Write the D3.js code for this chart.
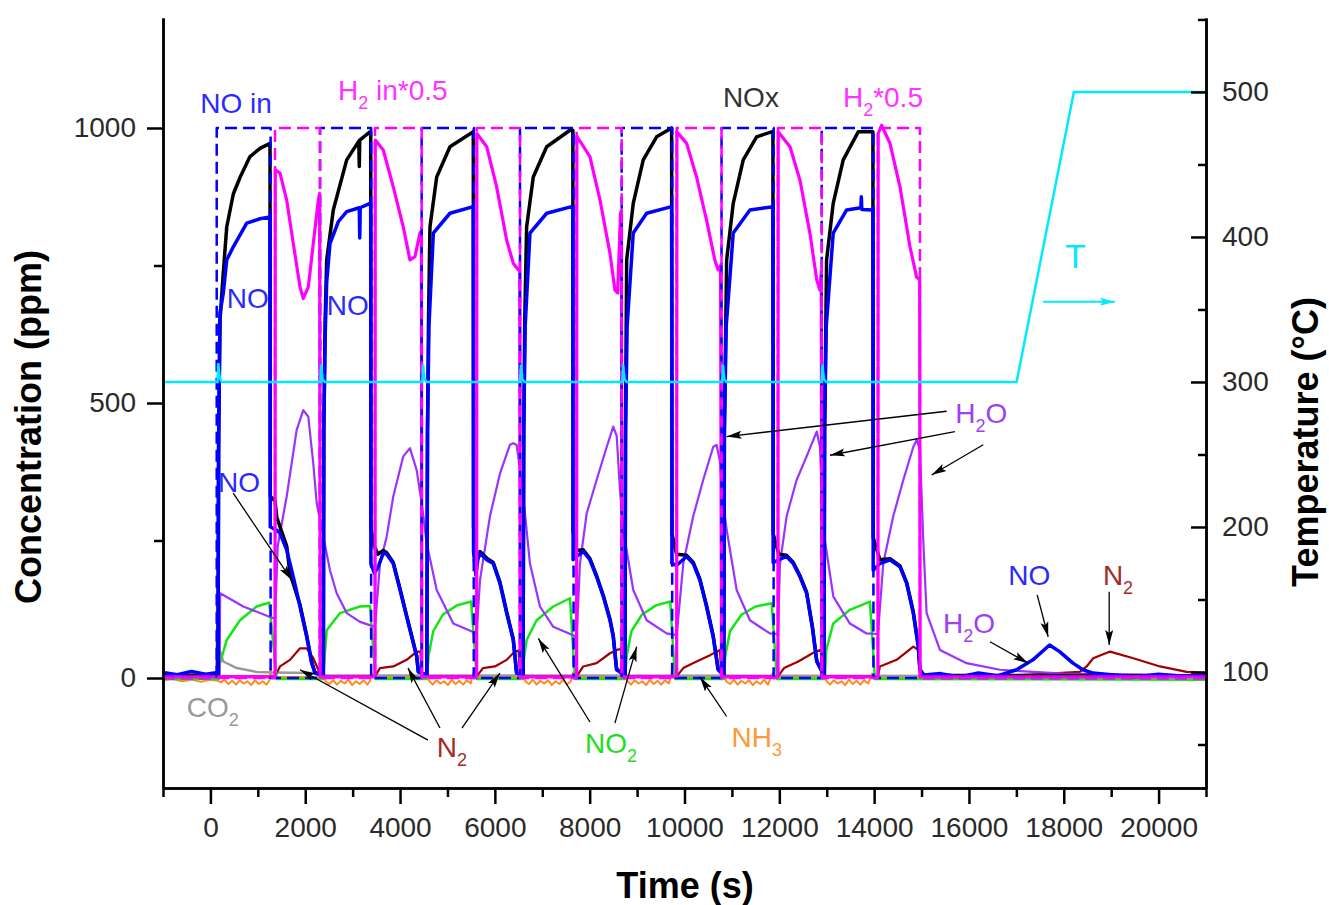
<!DOCTYPE html>
<html>
<head>
<meta charset="utf-8">
<script src="https://cdn.jsdelivr.net/npm/d3@7"></script>
<style>
body { margin: 0; background: #fff; }
text { font-family: "Liberation Sans", Arial, sans-serif; }
</style>
</head>
<body>
<script>

var w = 1329;
var h = 905;

// ---- data (time in s, concentration in ppm, T in degC) ----
var timeTicks = [0, 2000, 4000, 6000, 8000, 10000, 12000, 14000, 16000, 18000, 20000];
var concTicks = [0, 500, 1000];
var tempTicks = [100, 200, 300, 400, 500];

// inlet switching times
var noInOn  = [133, 2312, 4456, 6530, 8675, 10781, 12894];
var noInOff = [1270, 3390, 5555, 7660, 9740, 11880, 13985];
var h2InOn  = [1363, 3472, 5616, 7725, 9835, 11971, 14080];
var h2InOff = [2312, 4456, 6530, 8675, 10781, 12894, 14966];
var inletLevel = 1000;

var nox = [[-1000,5],[155,5],
  [160,5],[175,450],[202,650],[266,730],[344,820],[483,880],[624,910],[835,948],[1046,963],[1257,972],
  [1262,330],[1363,322],[1400,292],[1468,275],[1609,240],[1679,190],[1890,133],[2031,77],[2136,29],[2206,10],[2370,5],
  [2382,5],[2392,450],[2420,650],[2453,760],[2592,851],[2875,942],[3130,976],[3140,930],[3150,978],[3366,993],[3381,993],
  [3385,272],[3457,240],[3530,225],[3646,232],[3718,228],[3857,210],[4000,162],[4140,113],[4280,65],[4351,40],[4386,12],[4560,5],
  [4565,5],[4580,450],[4600,650],[4631,820],[4773,911],[5053,966],[5545,993],
  [5550,275],[5600,232],[5640,225],[5686,230],[5827,218],[5966,210],[6108,174],[6249,120],[6388,71],[6458,10],[6590,5],
  [6595,5],[6610,450],[6630,650],[6670,820],[6810,911],[7093,966],[7584,996],[7645,996],
  [7650,268],[7725,232],[7864,233],[8005,217],[8146,186],[8288,150],[8428,107],[8497,77],[8568,16],[8740,5],
  [8745,5],[8755,450],[8780,760],[8919,863],[9130,942],[9412,984],[9729,1000],
  [9735,262],[9835,225],[10045,223],[10184,210],[10324,180],[10464,132],[10605,77],[10710,16],[10825,5],
  [10830,5],[10840,450],[10889,760],[11028,863],[11239,942],[11521,984],[11837,993],[11865,993],
  [11870,262],[11990,225],[12154,223],[12295,210],[12436,186],[12576,156],[12700,92],[12790,31],[12940,5],
  [12943,5],[12955,450],[12997,760],[13137,863],[13348,942],[13664,993],[13946,993],[13974,993],
  [13980,255],[14122,215],[14334,217],[14545,204],[14686,174],[14826,120],[14931,59],[14966,16],[15050,5],[21000,4]];

var noOut = [[-1000,10],[-700,6],[-400,12],[-100,7],[150,10],
  [160,10],[172,420],[202,663],[272,700],[344,760],[483,784],[766,827],[1046,835],[1257,838],
  [1262,275],[1363,270],[1398,269],[1468,263],[1609,233],[1748,184],[1890,130],[2031,75],[2136,27],[2206,9],[2370,5],
  [2382,5],[2392,450],[2420,620],[2453,720],[2522,790],[2700,830],[2875,848],[3140,855],[3150,800],[3160,855],[3366,863],[3381,863],
  [3385,208],[3457,191],[3530,200],[3646,227],[3718,225],[3857,208],[4000,160],[4140,111],[4280,63],[4351,39],[4386,11],[4560,5],
  [4565,5],[4578,450],[4610,640],[4702,809],[5053,845],[5545,857],
  [5550,229],[5600,187],[5640,215],[5686,227],[5827,215],[5966,208],[6108,172],[6249,118],[6388,69],[6458,9],[6590,5],
  [6595,5],[6608,450],[6640,640],[6740,809],[7093,845],[7620,857],[7645,857],
  [7650,215],[7725,221],[7864,230],[8005,215],[8146,184],[8288,148],[8428,105],[8497,75],[8568,15],[8740,5],
  [8745,5],[8757,450],[8790,640],[8919,809],[9202,845],[9729,857],
  [9735,208],[9835,205],[10045,221],[10184,208],[10324,178],[10464,130],[10605,75],[10710,15],[10825,5],
  [10830,5],[10842,450],[10880,640],[11028,809],[11380,851],[11865,857],
  [11870,210],[11990,215],[12154,221],[12295,208],[12436,184],[12576,154],[12700,90],[12790,30],[12940,5],
  [12943,5],[12955,450],[12990,640],[13137,809],[13420,851],[13720,855],[13730,875],[13740,852],[13974,851],
  [13980,196],[14122,208],[14334,215],[14545,202],[14686,172],[14826,118],[14931,57],[14966,15],[15000,5],
  [15400,8],[15800,2],[16200,9],[16600,4],[17005,15],[17349,33],[17700,60],[17912,48],[18193,27],[18404,15],[18615,9],
  [19000,6],[19500,2],[20000,7],[20500,3],[21000,5]];

var h2Out = [[-1000,2],[1363,2],[1368,924],[1468,918],[1609,869],[1748,790],[1890,711],[1959,690],[2065,711],[2170,790],[2276,869],[2305,881],[2315,2],
  [3472,2],[3477,978],[3646,960],[3857,893],[4068,820],[4209,760],[4315,766],[4420,809],[4450,812],[4460,2],
  [5616,2],[5621,990],[5827,966],[6038,893],[6249,796],[6388,754],[6494,742],[6525,745],[6535,2],
  [7725,2],[7730,985],[8005,948],[8218,869],[8428,772],[8533,705],[8590,700],[8650,845],[8670,850],[8680,2],
  [9835,2],[9840,993],[10045,972],[10254,911],[10464,833],[10640,760],[10710,742],[10760,750],[10781,2],
  [11971,2],[11976,993],[12225,966],[12436,905],[12647,808],[12789,724],[12858,705],[12885,740],[12897,2],
  [14080,2],[14085,990],[14158,1005],[14334,972],[14545,893],[14756,784],[14896,729],[14960,724],[14970,2],[21000,2]];

var h2o = [[-1000,2],[195,2],[205,154],[694,130],[1257,111],[1363,108],[1420,240],[1609,330],[1820,451],[1959,487],[2065,475],[2170,390],[2242,318],[2382,257],[2522,196],[2663,154],[2875,118],[3155,102],[3472,93],
  [3577,208],[3718,257],[3857,330],[4068,403],[4209,418],[4351,378],[4456,318],[4562,245],[4773,160],[5123,99],[5616,81],
  [5686,178],[5896,294],[6108,372],[6318,424],[6388,427],[6458,424],[6530,380],[6599,330],[6740,208],[6951,130],[7232,93],[7725,75],
  [7795,208],[7936,299],[8146,360],[8359,420],[8497,457],[8570,440],[8640,340],[8708,269],[8919,160],[9202,105],[9623,81],[9835,78],
  [9974,208],[10184,294],[10394,360],[10605,420],[10676,424],[10745,395],[10800,330],[10890,269],[11100,160],[11380,105],[11800,81],[11971,80],
  [12014,208],[12154,294],[12365,360],[12576,403],[12789,448],[12858,420],[12900,330],[12929,269],[13140,148],[13489,99],[13841,81],[14080,80],
  [14192,208],[14403,294],[14615,360],[14826,420],[14896,433],[14966,415],[15036,250],[15107,118],[15388,51],[15950,27],[16653,15],[17349,11],[18000,8],[21000,5]];

var n2 = [[-1000,3],[1363,3],[1468,21],[1679,33],[1890,54],[2031,54],[2170,36],[2276,15],[2330,3],
  [3472,3],[3577,18],[3857,21],[4140,33],[4351,48],[4430,48],[4460,3],
  [5616,3],[5750,18],[6000,21],[6250,33],[6420,48],[6500,50],[6535,3],
  [7725,3],[7864,21],[8146,27],[8428,45],[8600,52],[8670,52],[8680,3],
  [9835,3],[9974,18],[10254,30],[10550,42],[10745,51],[10785,3],
  [11971,3],[12100,18],[12400,30],[12700,45],[12880,52],[12900,3],
  [14080,3],[14122,21],[14475,33],[14826,57],[14931,51],[14990,3],
  [17000,5],[18340,11],[18482,21],[18621,36],[18975,48],[19467,36],[20029,21],[20593,11],[21000,9]];

var no2 = [[-1000,-2],[170,-2],[202,27],[344,69],[624,105],[976,130],[1240,137],[1400,-2],
  [2380,-2],[2410,40],[2453,87],[2733,118],[3155,130],[3366,131],[3480,-2],
  [4565,-2],[4600,40],[4700,85],[4900,115],[5200,132],[5500,139],[5620,-2],
  [6593,-2],[6599,27],[6670,69],[6881,105],[7232,130],[7584,145],[7690,-2],
  [8745,-2],[8780,40],[8880,85],[9100,115],[9400,132],[9700,139],[9800,-2],
  [10830,-2],[10860,40],[10960,85],[11200,115],[11500,130],[11840,136],[11950,-2],
  [12960,-2],[12990,51],[13137,99],[13489,124],[13911,139],[14017,-2],[21000,-3]];

var nh3 = [[-1000,-4],[-800,-2],[-600,-6],[-400,-3],[-200,-7],[0,-3],[160,-5],
  [220,-8],[300,-3],[380,-11],[460,-5],[540,-12],[620,-4],[700,-10],[780,-6],[860,-13],[940,-4],[1020,-11],[1100,-6],[1180,-12],[1240,-5],[1265,18],[1300,2],
  [2300,2],[2390,12],[2430,-6],[2510,-11],[2590,-4],[2670,-12],[2750,-5],[2830,-10],[2910,-3],[2990,-13],[3070,-6],[3150,-11],[3230,-4],[3310,-12],[3370,-5],[3395,12],[3430,2],
  [4450,2],[4570,14],[4610,-5],[4690,-12],[4770,-4],[4850,-10],[4930,-6],[5010,-13],[5090,-3],[5170,-11],[5250,-5],[5330,-12],[5410,-4],[5490,-10],[5540,8],[5600,2],
  [6530,2],[6600,15],[6640,-6],[6720,-11],[6800,-3],[6880,-12],[6960,-5],[7040,-10],[7120,-4],[7200,-13],[7280,-6],[7360,-11],[7440,-3],[7520,-12],[7600,-6],[7650,10],[7700,2],
  [8675,2],[8750,12],[8790,-5],[8870,-12],[8950,-4],[9030,-10],[9110,-6],[9190,-13],[9270,-3],[9350,-11],[9430,-5],[9510,-12],[9590,-4],[9670,-10],[9730,8],[9780,2],
  [10781,2],[10840,13],[10880,-6],[10960,-11],[11040,-3],[11120,-12],[11200,-5],[11280,-10],[11360,-4],[11440,-13],[11520,-6],[11600,-11],[11680,-3],[11760,-12],[11860,9],[11900,2],
  [12894,2],[12950,12],[12990,-5],[13070,-12],[13150,-4],[13230,-10],[13310,-6],[13390,-13],[13470,-3],[13550,-11],[13630,-5],[13710,-12],[13790,-4],[13870,-10],[13960,8],[14000,2],
  [15000,2],[21000,2]];

var co2 = [[-1000,2],[120,2],[140,84],[165,60],[272,30],[555,18],[976,11],[1328,10],[2170,9],[2300,5],[21000,3]];

var temp = [[-1000,300],[150,300],[165,313],[195,303],[240,300],
  [2320,300],[2335,312],[2365,302],[2410,300],
  [4470,300],[4485,312],[4515,302],[4560,300],
  [6535,300],[6550,312],[6580,302],[6625,300],
  [8690,300],[8705,312],[8735,302],[8780,300],
  [10795,300],[10810,312],[10840,302],[10885,300],
  [12895,300],[12910,312],[12940,302],[12985,300],
  [17005,300],[18213,500],[21000,500]];

// ---- chart ----
var svg = d3.select("body")
        .append("svg")
        .attr("width", w)
        .attr("height", h);

var x = d3.scaleLinear().domain([-1000, 21000]).range([163, 1206]);
var y = d3.scaleLinear().domain([-200, 1200]).range([788, 18]);
var yT = d3.scaleLinear().domain([20, 551]).range([788, 18]);

// arrow heads
var defs = svg.append("defs");
[["arrBlack", "#000"], ["arrCyan", "#00eaff"]].forEach(function(m) {
    defs.append("marker")
        .attr("id", m[0])
        .attr("markerUnits", "userSpaceOnUse")
        .attr("markerWidth", 16).attr("markerHeight", 10)
        .attr("refX", 15).attr("refY", 5)
        .attr("orient", "auto")
        .append("path")
        .attr("d", "M0,1 L15,5 L0,9 L3,5 z")
        .attr("fill", m[1]);
});

// step series for the inlet feeds
function steps(on, off) {
    var pts = [[-1000, 0]];
    on.forEach(function(t, i) {
        pts.push([t, 0], [t, inletLevel], [off[i], inletLevel], [off[i], 0]);
    });
    pts.push([21000, 0]);
    return pts;
}

var line = d3.line().x(function(d) { return x(d[0]); }).y(function(d) { return y(d[1]); });
var lineT = d3.line().x(function(d) { return x(d[0]); }).y(function(d) { return yT(d[1]); });

var series = [
    {data: nh3,   color: "#ff8c1a", width: 2},
    {data: co2,   color: "#9a9a9a", width: 2.5},
    {data: n2,    color: "#a00000", width: 2.2},
    {data: no2,   color: "#14e614", width: 2.5},
    {data: h2o,   color: "#9933ff", width: 2.2},
    {data: nox,   color: "#000000", width: 3.5},
    {data: noOut, color: "#0000ff", width: 3.5},
    {data: h2Out, color: "#ff00ff", width: 3.2},
    {data: steps(noInOn, noInOff), color: "#0000ff", width: 2.5, dash: "12,6"},
    {data: steps(h2InOn, h2InOff), color: "#ff00ff", width: 2.5, dash: "12,6"}
];

svg.selectAll("path.series")
    .data(series)
    .enter()
    .append("path")
    .attr("class", "series")
    .attr("fill", "none")
    .attr("stroke", function(d) { return d.color; })
    .attr("stroke-width", function(d) { return d.width; })
    .attr("stroke-dasharray", function(d) { return d.dash || null; })
    .attr("stroke-linejoin", "round")
    .attr("d", function(d) { return line(d.data); });

svg.append("path")
    .attr("fill", "none")
    .attr("stroke", "#00eaff")
    .attr("stroke-width", 2.5)
    .attr("d", lineT(temp));

// ---- axes ----
function styleAxis(g) {
    g.selectAll(".domain").attr("stroke", "#000").attr("stroke-width", 2.5);
    g.selectAll(".tick line").attr("stroke", "#000").attr("stroke-width", 2.5);
    g.selectAll(".tick text").attr("font-size", 28).attr("fill", "#2a2a2a")
        .attr("font-family", "Liberation Sans, Arial, sans-serif");
}

svg.append("g")
    .attr("transform", "translate(0,788)")
    .call(d3.axisBottom(x).tickValues(d3.range(-1000, 21001, 2000)).tickSize(9).tickFormat("").tickSizeOuter(0))
    .call(styleAxis);
svg.append("g")
    .attr("transform", "translate(0,788)")
    .call(d3.axisBottom(x).tickValues(timeTicks).tickFormat(d3.format("d")).tickSize(16).tickPadding(13).tickSizeOuter(0))
    .call(styleAxis);

svg.append("g")
    .attr("transform", "translate(163,0)")
    .call(d3.axisLeft(y).tickValues([250, 750]).tickSize(9).tickFormat("").tickSizeOuter(0))
    .call(styleAxis);
svg.append("g")
    .attr("transform", "translate(163,0)")
    .call(d3.axisLeft(y).tickValues(concTicks).tickFormat(d3.format("d")).tickSize(16).tickPadding(11).tickSizeOuter(0))
    .call(styleAxis);

svg.append("g")
    .attr("transform", "translate(1206,0)")
    .call(d3.axisRight(yT).tickValues([50, 150, 250, 350, 450, 550]).tickSize(-8).tickFormat("").tickSizeOuter(0))
    .call(styleAxis);
svg.append("g")
    .attr("transform", "translate(1206,0)")
    .call(d3.axisRight(yT).tickValues(tempTicks).tickFormat(d3.format("d")).tickSize(-15).tickPadding(16).tickSizeOuter(0))
    .call(styleAxis);

// axis titles
svg.append("text")
    .attr("x", 685).attr("y", 898)
    .attr("text-anchor", "middle")
    .attr("font-size", 36).attr("font-weight", "bold")
    .text("Time (s)");

svg.append("text")
    .attr("transform", "translate(41,427) rotate(-90)")
    .attr("text-anchor", "middle")
    .attr("font-size", 36).attr("font-weight", "bold")
    .text("Concentration (ppm)");

svg.append("text")
    .attr("transform", "translate(1318,442) rotate(-90)")
    .attr("text-anchor", "middle")
    .attr("font-size", 36).attr("font-weight", "bold")
    .text("Temperature (°C)");

// ---- annotations (positions in data units) ----
var notes = [
    {t: -215,  v: 1027, color: "#2a2aff", parts: [["NO in", 0]]},
    {t: 2691,  v: 1051, color: "#ff33ff", parts: [["H", 0], ["2", 1], [" in*0.5", 0]]},
    {t: 10810, v: 1038, color: "#333333", parts: [["NOx", 0]]},
    {t: 13341, v: 1038, color: "#ff33ff", parts: [["H", 0], ["2", 1], ["*0.5", 0]]},
    {t: 344,   v: 673,  color: "#2a2aff", parts: [["NO", 0]]},
    {t: 2453,  v: 660,  color: "#2a2aff", parts: [["NO", 0]]},
    {t: 160,   v: 338,  color: "#2a2aff", parts: [["NO", 0]]},
    {t: -500,  v: -70,  color: "#999999", parts: [["CO", 0], ["2", 1]]},
    {t: 4773,  v: -144, color: "#a52a2a", parts: [["N", 0], ["2", 1]]},
    {t: 7900,  v: -136, color: "#22dd22", parts: [["NO", 0], ["2", 1]]},
    {t: 10994, v: -125, color: "#ff9933", parts: [["NH", 0], ["3", 1]]},
    {t: 15710, v: 463,  color: "#a040f0", parts: [["H", 0], ["2", 1], ["O", 0]]},
    {t: 15451, v: 81,   color: "#a040f0", parts: [["H", 0], ["2", 1], ["O", 0]]},
    {t: 16828, v: 169,  color: "#2a2aff", parts: [["NO", 0]]},
    {t: 18825, v: 169,  color: "#a52a2a", parts: [["N", 0], ["2", 1]]}
];

notes.forEach(function(n) {
    var t = svg.append("text")
        .attr("x", x(n.t)).attr("y", y(n.v))
        .attr("font-size", 28)
        .attr("fill", n.color);
    var shifted = false;
    n.parts.forEach(function(p) {
        var s = t.append("tspan").text(p[0]);
        if (p[1]) {
            s.attr("font-size", 18).attr("dy", 9);
            shifted = true;
        } else if (shifted) {
            s.attr("dy", -9);
            shifted = false;
        }
    });
});

svg.append("text")
    .attr("x", x(18024)).attr("y", y(745))
    .attr("font-size", 34)
    .attr("fill", "#00eaff")
    .text("T");

var arrows = [
    [481, 336, 1715, 178],
    [4589, -113, 1890, 15],
    [4842, -91, 4167, 18],
    [5306, -91, 6107, 9],
    [8006, -80, 6916, 72],
    [8533, -82, 8991, 57],
    [10889, -70, 10326, 2],
    [15529, 485, 10889, 439],
    [15704, 448, 13068, 405],
    [16301, 424, 15212, 369],
    [16443, 66, 17249, 27],
    [17439, 151, 17671, 75],
    [18958, 157, 18958, 60]
];

svg.selectAll("line.arrow")
    .data(arrows)
    .enter()
    .append("line")
    .attr("class", "arrow")
    .attr("x1", function(d) { return x(d[0]); })
    .attr("y1", function(d) { return y(d[1]); })
    .attr("x2", function(d) { return x(d[2]); })
    .attr("y2", function(d) { return y(d[3]); })
    .attr("stroke", "#000")
    .attr("stroke-width", 1.3)
    .attr("marker-end", "url(#arrBlack)");

svg.append("line")
    .attr("x1", x(17562)).attr("y1", y(684))
    .attr("x2", x(19080)).attr("y2", y(684))
    .attr("stroke", "#00eaff")
    .attr("stroke-width", 2)
    .attr("marker-end", "url(#arrCyan)");

</script>
</body>
</html>
